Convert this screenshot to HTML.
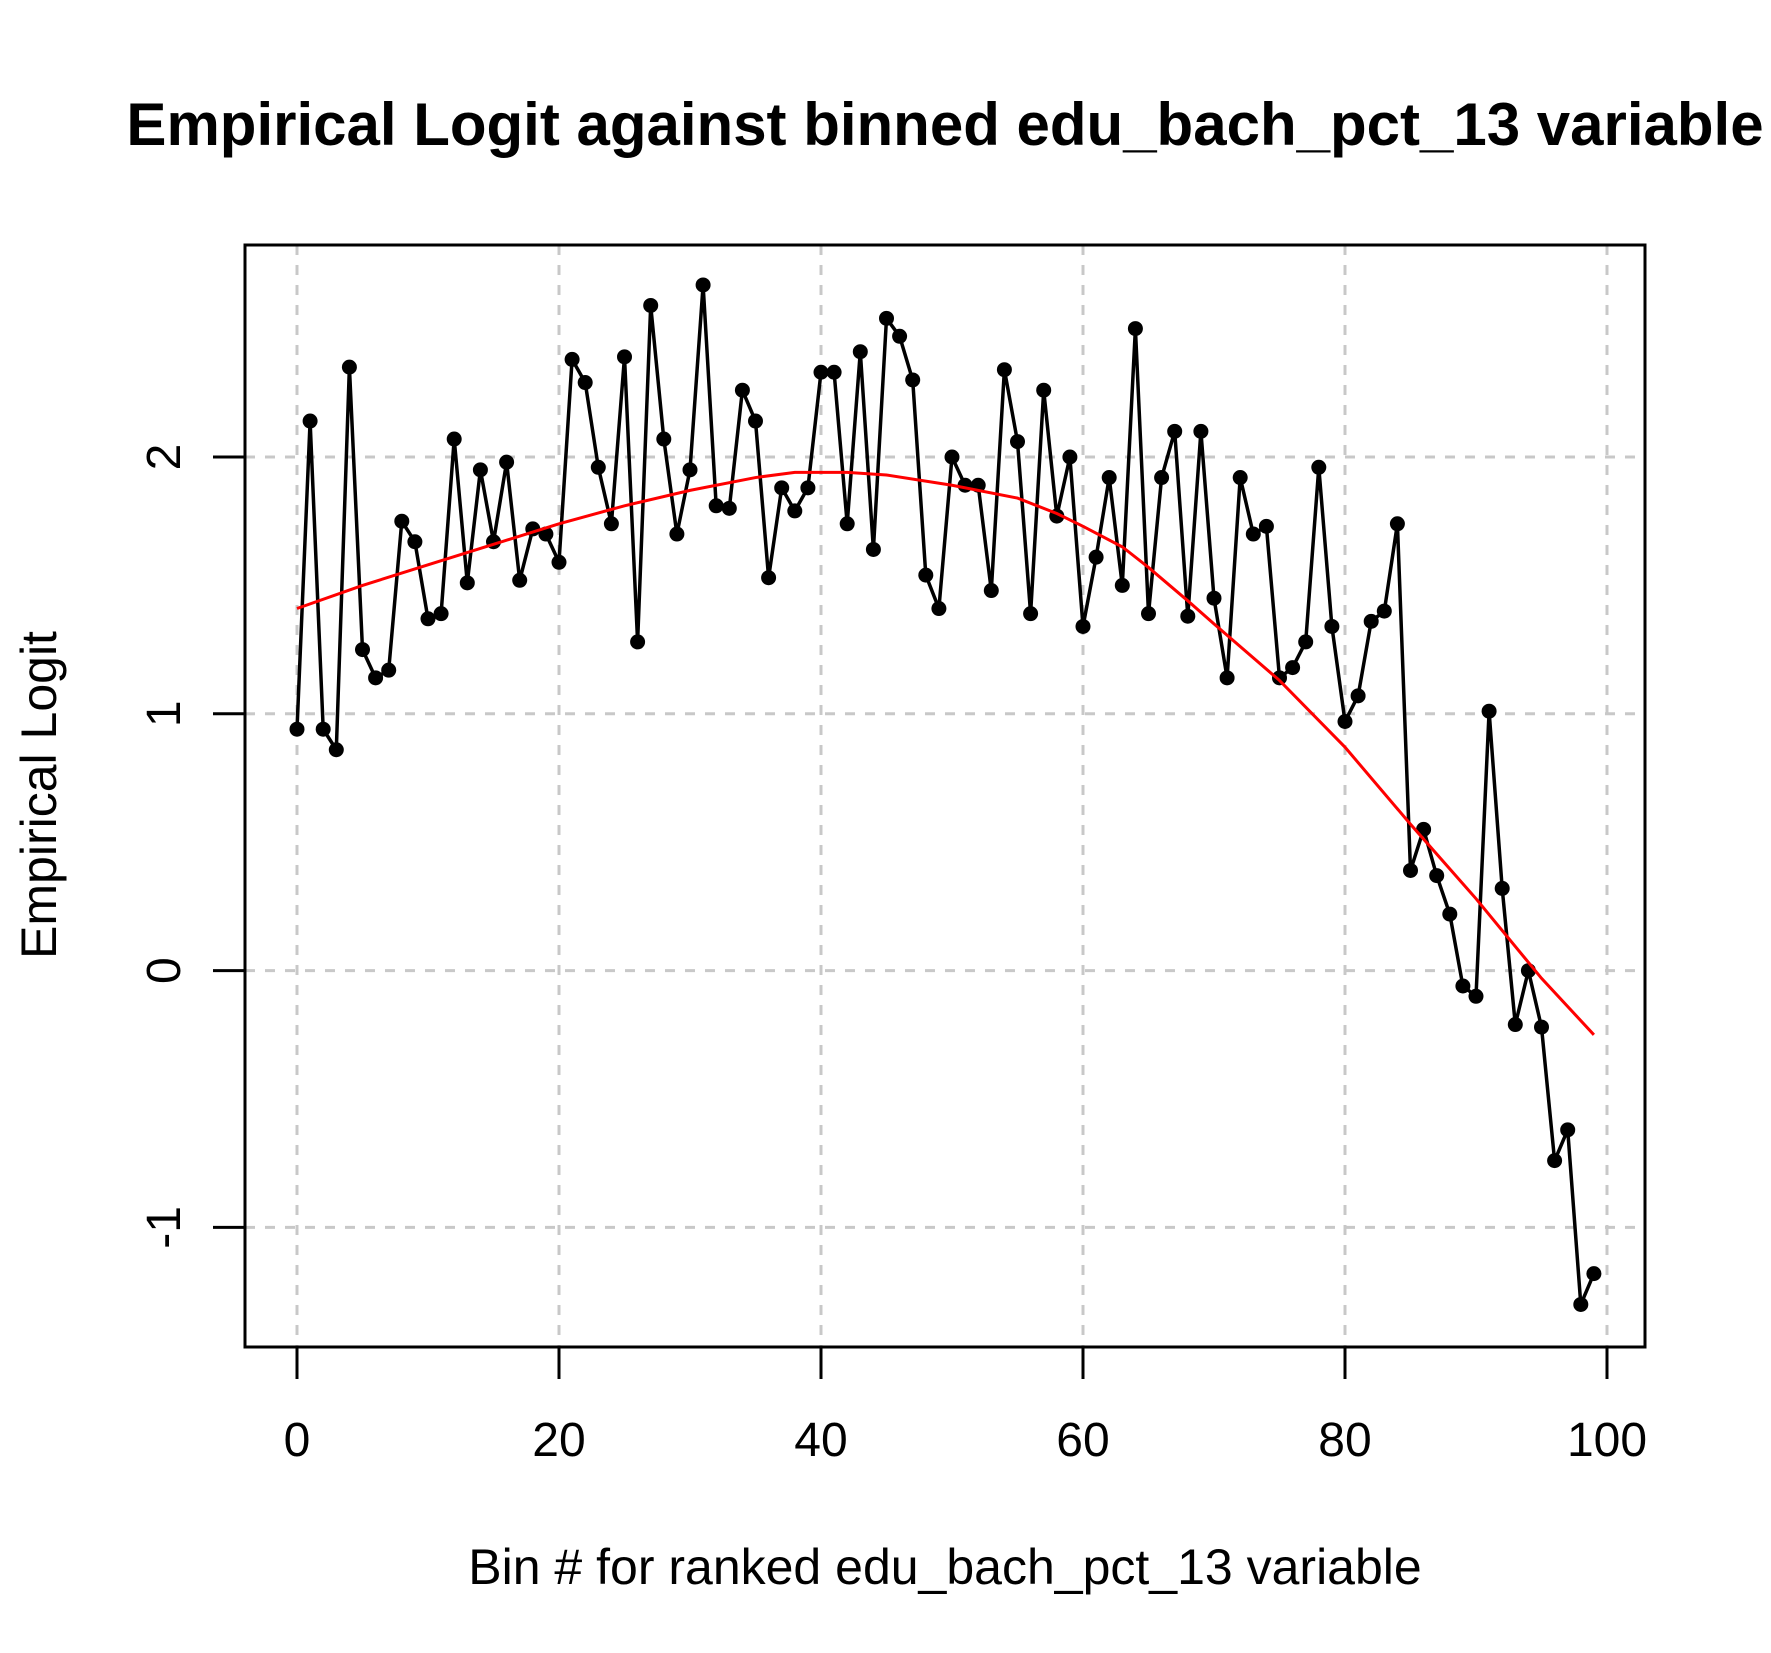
<!DOCTYPE html>
<html><head><meta charset="utf-8"><style>
html,body{margin:0;padding:0;background:#fff;}
svg{display:block;font-family:"Liberation Sans",Arial,sans-serif;}
</style></head><body>
<svg id="chart" width="1771" height="1653" viewBox="0 0 1771 1653" xmlns="http://www.w3.org/2000/svg">
<rect width="1771" height="1653" fill="#fff"/>
<text x="945" y="145" text-anchor="middle" font-size="60" font-weight="bold">Empirical Logit against binned edu_bach_pct_13 variable</text>
<text x="945" y="1584" text-anchor="middle" font-size="50">Bin # for ranked edu_bach_pct_13 variable</text>
<text transform="translate(56,795) rotate(-90)" text-anchor="middle" font-size="50">Empirical Logit</text>
<g id="grid"></g><g id="axes"></g><g id="marks"></g>
<rect x="245" y="245" width="1400" height="1102" fill="none" stroke="#000" stroke-width="3"/>
</svg>
<script>
const binIdx = Array.from({length:100},(_, i)=>i);
const logitVals = [0.94,2.14,0.94,0.86,2.35,1.25,1.14,1.17,1.75,1.67,1.37,1.39,2.07,1.51,1.95,1.67,1.98,1.52,1.72,1.70,
1.59,2.38,2.29,1.96,1.74,2.39,1.28,2.59,2.07,1.70,1.95,2.67,1.81,1.80,2.26,2.14,1.53,1.88,1.79,1.88,
2.33,2.33,1.74,2.41,1.64,2.54,2.47,2.30,1.54,1.41,2.00,1.89,1.89,1.48,2.34,2.06,1.39,2.26,1.77,2.00,
1.34,1.61,1.92,1.50,2.50,1.39,1.92,2.10,1.38,2.10,1.45,1.14,1.92,1.70,1.73,1.14,1.18,1.28,1.96,1.34,
0.97,1.07,1.36,1.40,1.74,0.39,0.55,0.37,0.22,-0.06,-0.10,1.01,0.32,-0.21,0.00,-0.22,-0.74,-0.62,-1.30,-1.18];
const curveX = [0,5,10,15,20,25,30,35,38,42,45,50,55,58,60,63,65,68,70,75,80,85,90,95,99];
const curveY = [1.41,1.50,1.58,1.66,1.74,1.81,1.87,1.92,1.94,1.94,1.93,1.89,1.84,1.78,1.73,1.65,1.57,1.44,1.35,1.13,0.87,0.57,0.28,-0.03,-0.25];
const xTicks = [0,20,40,60,80,100];
const yTicks = [-1,0,1,2];

const NS="http://www.w3.org/2000/svg";
const X = v => 297 + v*(1607-297)/100;
const Y = v => 970.6 - v*256.8;
const L=245,R=1645,T=245,B=1347;
function mk(tag, attrs, parent){const e=document.createElementNS(NS,tag);for(const k in attrs)e.setAttribute(k,attrs[k]);parent.appendChild(e);return e;}
const grid=document.getElementById('grid'), axes=document.getElementById('axes'), marks=document.getElementById('marks');

xTicks.forEach(t=>{
  const g=mk('line',{x1:X(t),x2:X(t),y1:T,y2:B,stroke:'#c8c8c8','stroke-width':3,'stroke-dasharray':'10,10'},grid);
  
  
  const tk=mk('line',{x1:X(t),x2:X(t),y1:B,y2:B+32,stroke:'#000','stroke-width':3},axes);
  
  
  const lb=mk('text',{x:X(t),y:1456,'text-anchor':'middle','font-size':48},axes);
  lb.textContent=t;
  
  
});
yTicks.forEach(t=>{
  const g=mk('line',{x1:L,x2:R,y1:Y(t),y2:Y(t),stroke:'#c8c8c8','stroke-width':3,'stroke-dasharray':'10,10'},grid);
  
  
  const tk=mk('line',{x1:L-32,x2:L,y1:Y(t),y2:Y(t),stroke:'#000','stroke-width':3},axes);
  
  
  const lb=mk('text',{transform:`translate(180,${Y(t)}) rotate(-90)`,'text-anchor':'middle','font-size':48},axes);
  lb.textContent=t;
  
  
});
mk('line',{x1:X(0),x2:X(100),y1:B,y2:B,stroke:'#000','stroke-width':3},axes);
mk('line',{x1:L,x2:L,y1:Y(-1),y2:Y(2),stroke:'#000','stroke-width':3},axes);

const line=mk('polyline',{points:binIdx.map((b,i)=>X(b)+','+Y(logitVals[i])).join(' '),fill:'none',stroke:'#000','stroke-width':3.5,'stroke-linejoin':'round'},marks);


binIdx.forEach((b,i)=>{
  const c=mk('circle',{cx:X(b),cy:Y(logitVals[i]),r:7.5,fill:'#000'},marks);
  
  
});
const sm=mk('polyline',{points:curveX.map((x,i)=>X(x)+','+Y(curveY[i])).join(' '),fill:'none',stroke:'#ff0000','stroke-width':3},marks);


</script>
</body></html>
